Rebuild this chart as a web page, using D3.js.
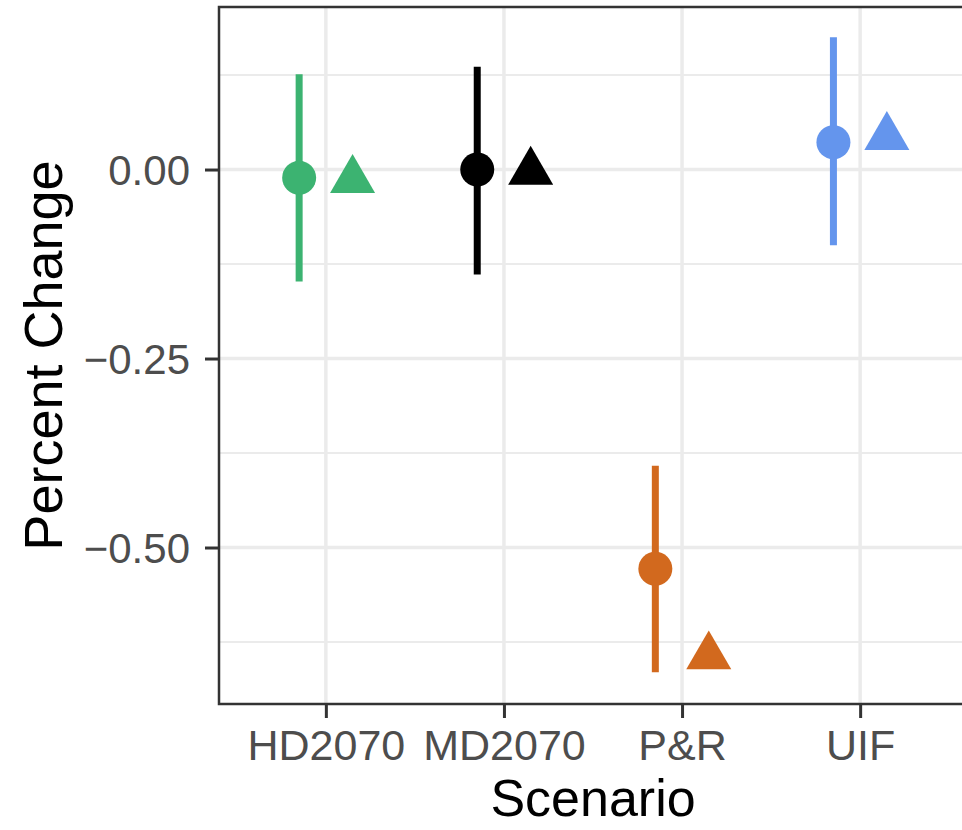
<!DOCTYPE html>
<html>
<head>
<meta charset="utf-8">
<script src="https://cdn.jsdelivr.net/npm/d3@7"></script>
<style>
  body { margin: 0; background: #fff; }
  svg { display: block; font-family: "Liberation Sans", Arial, sans-serif; }
</style>
</head>
<body>
<div id="chart"></div>
<script>
// data
const scenarios = ["HD2070", "MD2070", "P&R", "UIF"];
const meanChange = [-0.011, 0.000, -0.528, 0.036];
const lowerCI = [-0.148, -0.139, -0.665, -0.100];
const upperCI = [0.126, 0.136, -0.392, 0.175];
const observedChange = [-0.014, -0.003, -0.644, 0.043];
const colors = ["#3CB371", "#000000", "#D2691E", "#6495ED"];
const yTicks = [0, -0.25, -0.5];
const yMinorTicks = [0.125, -0.125, -0.375, -0.625];
const yLimits = [-0.707, 0.215];

const width = 962, height = 830;
const panel = { left: 219, right: 967, top: 7, bottom: 704 };

const svg = d3.select("#chart").append("svg")
  .attr("width", width)
  .attr("height", height);

const x = d3.scalePoint()
  .domain(scenarios)
  .range([panel.left, panel.right])
  .padding(0.6);

const y = d3.scaleLinear()
  .domain(yLimits)
  .range([panel.bottom, panel.top]);

const dodge = x.step() * 0.15;

// grid
svg.append("g").selectAll("line")
  .data(yMinorTicks)
  .enter().append("line")
  .attr("x1", panel.left).attr("x2", panel.right)
  .attr("y1", d => y(d)).attr("y2", d => y(d))
  .attr("stroke", "#EBEBEB").attr("stroke-width", 2);

svg.append("g").selectAll("line")
  .data(yTicks)
  .enter().append("line")
  .attr("x1", panel.left).attr("x2", panel.right)
  .attr("y1", d => y(d)).attr("y2", d => y(d))
  .attr("stroke", "#EBEBEB").attr("stroke-width", 3.5);

svg.append("g").selectAll("line")
  .data(scenarios)
  .enter().append("line")
  .attr("x1", d => x(d)).attr("x2", d => x(d))
  .attr("y1", panel.top).attr("y2", panel.bottom)
  .attr("stroke", "#EBEBEB").attr("stroke-width", 3.5);

// error bars
svg.append("g").selectAll("line")
  .data(scenarios)
  .enter().append("line")
  .attr("x1", d => x(d) - dodge).attr("x2", d => x(d) - dodge)
  .attr("y1", (d, i) => y(lowerCI[i]))
  .attr("y2", (d, i) => y(upperCI[i]))
  .attr("stroke", (d, i) => colors[i])
  .attr("stroke-width", 7);

// means
svg.append("g").selectAll("circle")
  .data(scenarios)
  .enter().append("circle")
  .attr("cx", d => x(d) - dodge)
  .attr("cy", (d, i) => y(meanChange[i]))
  .attr("r", 17)
  .attr("fill", (d, i) => colors[i]);

// observed
const tri = d3.symbol().type(d3.symbolTriangle).size(878);
svg.append("g").selectAll("path")
  .data(scenarios)
  .enter().append("path")
  .attr("d", tri)
  .attr("transform", (d, i) => `translate(${x(d) + dodge},${y(observedChange[i])})`)
  .attr("fill", (d, i) => colors[i]);

// panel border
svg.append("rect")
  .attr("x", panel.left).attr("y", panel.top)
  .attr("width", panel.right - panel.left)
  .attr("height", panel.bottom - panel.top)
  .attr("fill", "none")
  .attr("stroke", "#333333")
  .attr("stroke-width", 2.5);

// axes
const yAxis = svg.append("g")
  .attr("transform", `translate(${panel.left},0)`)
  .call(d3.axisLeft(y).tickValues(yTicks).tickSize(14).tickPadding(15)
    .tickFormat(d => d3.format(".2f")(d).replace("-", "\u2212")));
yAxis.select(".domain").remove();
yAxis.selectAll("line").attr("stroke", "#333333").attr("stroke-width", 3);
yAxis.selectAll("text")
  .attr("fill", "#4D4D4D")
  .style("font-size", "42px")
  .attr("dy", "0.36em");

const xAxis = svg.append("g")
  .attr("transform", `translate(0,${panel.bottom})`)
  .call(d3.axisBottom(x).tickSize(14).tickPadding(11));
xAxis.select(".domain").remove();
xAxis.selectAll("line").attr("stroke", "#333333").attr("stroke-width", 3);
xAxis.selectAll("text")
  .attr("fill", "#4D4D4D")
  .style("font-size", "43px");

// axis titles
svg.append("text")
  .attr("x", (panel.left + panel.right) / 2)
  .attr("y", 816)
  .attr("text-anchor", "middle")
  .style("font-size", "52px")
  .text("Scenario");

svg.append("text")
  .attr("transform", `translate(62,${(panel.top + panel.bottom) / 2}) rotate(-90)`)
  .attr("text-anchor", "middle")
  .style("font-size", "54px")
  .text("Percent Change");
</script>
</body>
</html>
